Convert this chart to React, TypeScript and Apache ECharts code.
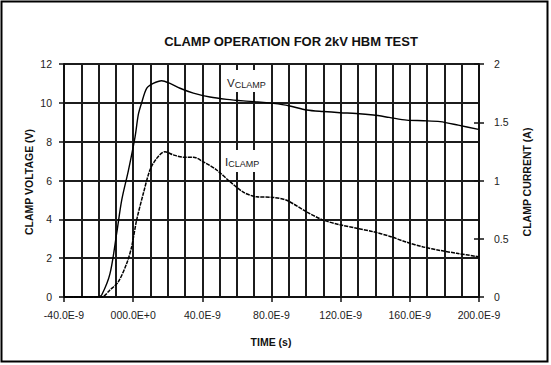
import React, { useEffect, useRef } from "react";
import * as echarts from "echarts";

// Time in ns, voltage in V (left axis)
const timeV = [-40, -30, -20, -18.2, -13.4, -9.5, -6.6, -2.8, 1.1, 3.0, 4.9, 7.8, 11.6, 16.5, 21.3, 27.1, 34.8, 44.4, 54.1, 63.7, 72, 81, 90, 100.4, 110, 119.6, 129, 138.9, 148, 158.2, 168, 177.5, 188, 199.7];
const voltage = [0, 0, 0.02, 0.1, 1.2, 3.3, 5.0, 6.5, 8.25, 9.4, 10.0, 10.75, 11.0, 11.14, 11.0, 10.75, 10.5, 10.3, 10.18, 10.1, 10.05, 9.97, 9.85, 9.63, 9.55, 9.49, 9.45, 9.37, 9.25, 9.11, 9.08, 9.03, 8.85, 8.63];

// Time in ns, current in A (right axis)
const timeI = [-40, -30, -20, -18.2, -13.4, -8.6, -3.7, -0.9, 2.0, 5.9, 9.7, 13.6, 18.4, 23.2, 29, 34.8, 40.6, 48.3, 56, 63.7, 71.4, 81, 88.8, 100.4, 110, 119.6, 129.3, 138.9, 148.6, 158.2, 167.8, 177.5, 187.1, 199.7];
const current = [0, 0, 0, 0, 0.06, 0.13, 0.29, 0.43, 0.66, 0.89, 1.09, 1.19, 1.247, 1.22, 1.2, 1.2, 1.16, 1.09, 0.99, 0.9, 0.86, 0.855, 0.83, 0.73, 0.66, 0.62, 0.59, 0.56, 0.52, 0.47, 0.43, 0.4, 0.375, 0.346];

const xTickValues = [-40, 0, 40, 80, 120, 160, 200];
const xTickLabels = ["-40.0E-9", "000.0E+0", "40.0E-9", "80.0E-9", "120.0E-9", "160.0E-9", "200.0E-9"];

const FONT = "Liberation Sans, Arial, Helvetica, sans-serif";
const INK = "#111";
const GRID = "#1c1c1c";

export default function App() {
  const ref = useRef<HTMLDivElement>(null);
  useEffect(() => {
    if (!ref.current) return;
    const chart = echarts.init(ref.current, undefined, { renderer: "svg" });
    const vData = timeV.map((t, i) => [t, voltage[i]]);
    const iData = timeI.map((t, i) => [t, current[i]]);
    const labelStyle = { color: "#222", fontFamily: FONT, fontSize: 10.5 };
    const nameFont = { fontFamily: FONT, fontSize: 10.5, fontWeight: "bold", fill: INK };
    const rich = {
      v: { fontFamily: FONT, fontSize: 11.5, fill: "#222", verticalAlign: "bottom", lineHeight: 14 },
      s: { fontFamily: FONT, fontSize: 9, fill: "#222", verticalAlign: "bottom", lineHeight: 12 },
    };
    chart.setOption({
      animation: false,
      backgroundColor: "#fff",
      title: {
        text: "CLAMP OPERATION FOR 2kV HBM TEST",
        left: 286,
        top: 30,
        textAlign: "center",
        textStyle: { fontFamily: FONT, fontSize: 13, fontWeight: "bold", color: INK },
      },
      grid: { left: 64, right: 72, top: 64, bottom: 68 },
      xAxis: [
        {
          type: "value",
          min: -40,
          max: 200,
          interval: 10,
          axisLine: { show: true, onZero: false, lineStyle: { color: INK, width: 2 } },
          axisTick: { show: false },
          axisLabel: { show: false },
          splitLine: { show: true, lineStyle: { color: GRID, width: 2 } },
        },
        {
          type: "value",
          position: "bottom",
          min: -40,
          max: 200,
          interval: 40,
          axisLine: { show: false, onZero: false },
          axisTick: { show: true, length: 5, lineStyle: { color: INK, width: 1.5 } },
          axisLabel: {
            ...labelStyle,
            margin: 12,
            formatter: (v: number) => {
              const k = xTickValues.indexOf(Math.round(v));
              return k >= 0 ? xTickLabels[k] : "";
            },
          },
          splitLine: { show: false },
        },
      ],
      yAxis: [
        {
          type: "value",
          position: "left",
          min: 0,
          max: 12,
          interval: 2,
          axisLine: { show: true, onZero: false, lineStyle: { color: INK, width: 2 } },
          axisTick: { show: true, length: 5, lineStyle: { color: INK, width: 1.5 } },
          axisLabel: { ...labelStyle, margin: 12 },
          splitLine: { show: true, lineStyle: { color: GRID, width: 2 } },
        },
        {
          type: "value",
          position: "right",
          min: 0,
          max: 2,
          interval: 0.5,
          axisLine: { show: true, onZero: false, lineStyle: { color: INK, width: 2 } },
          axisTick: { show: true, length: 5, lineStyle: { color: INK, width: 1.5 } },
          axisLabel: { ...labelStyle, margin: 15 },
          splitLine: { show: false },
        },
        {
          type: "value",
          position: "right",
          min: 0,
          max: 2,
          interval: 0.5,
          axisLine: { show: false, onZero: false },
          axisTick: { show: true, inside: true, length: 5, lineStyle: { color: INK, width: 1.5 } },
          axisLabel: { show: false },
          splitLine: { show: false },
        },
      ],
      series: [
        {
          name: "VCLAMP",
          type: "line",
          xAxisIndex: 0,
          yAxisIndex: 0,
          data: vData,
          showSymbol: false,
          smooth: 0.3,
          lineStyle: { color: "#000", width: 1.4 },
          z: 5,
        },
        {
          name: "ICLAMP",
          type: "line",
          xAxisIndex: 0,
          yAxisIndex: 1,
          data: iData,
          showSymbol: false,
          smooth: 0.3,
          lineStyle: { color: "#000", width: 1.5, type: [4, 1] },
          z: 5,
        },
      ],
      graphic: [
        {
          type: "rect",
          shape: { x: 1.5, y: 1.5, width: 546, height: 360 },
          style: { fill: "none", stroke: "#000", lineWidth: 2 },
          z: 0,
        },
        {
          type: "text",
          x: 29,
          y: 182,
          rotation: Math.PI / 2,
          style: { text: "CLAMP VOLTAGE (V)", ...nameFont, align: "center", verticalAlign: "middle" },
        },
        {
          type: "text",
          x: 527,
          y: 182,
          rotation: Math.PI / 2,
          style: { text: "CLAMP CURRENT (A)", ...nameFont, align: "center", verticalAlign: "middle" },
        },
        {
          type: "text",
          x: 271,
          y: 342,
          style: { text: "TIME (s)", ...nameFont, align: "center", verticalAlign: "middle" },
        },
        {
          type: "rect",
          shape: { x: 223, y: 70, width: 47, height: 22 },
          style: { fill: "#fff" },
          z: 10,
        },
        {
          type: "text",
          x: 227,
          y: 75,
          z: 11,
          style: { text: "{v|V}{s|CLAMP}", rich },
        },
        {
          type: "rect",
          shape: { x: 221, y: 150, width: 46, height: 22 },
          style: { fill: "#fff" },
          z: 10,
        },
        {
          type: "text",
          x: 225,
          y: 154,
          z: 11,
          style: { text: "{v|I}{s|CLAMP}", rich },
        },
      ],
    });
    return () => chart.dispose();
  }, []);
  return (
    <div
      ref={ref}
      style={{ position: "fixed", left: 0, top: 0, width: 551, height: 365, background: "#fff" }}
    />
  );
}
